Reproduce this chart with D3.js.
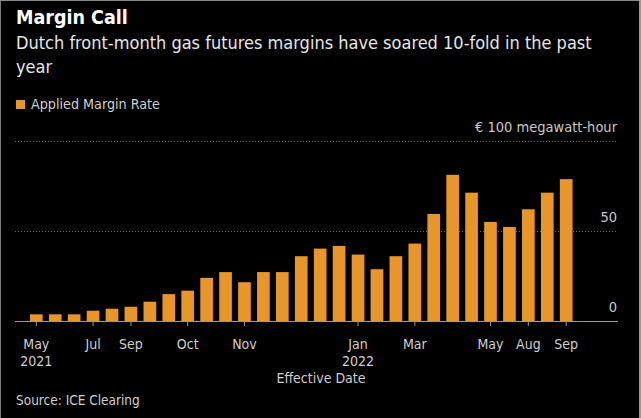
<!DOCTYPE html>
<html>
<head>
<meta charset="utf-8">
<script src="https://cdn.jsdelivr.net/npm/d3@7"></script>
<style>
  html, body { margin: 0; padding: 0; background: #000; }
  svg { display: block; }
  text { font-family: "DejaVu Sans Condensed", "DejaVu Sans", sans-serif; }
</style>
</head>
<body>
<div id="chart"></div>
<script>
var w = 641;
var h = 418;

// applied margin rate, EUR per MWh, one value per effective date
var margins = [3.7, 3.7, 3.7, 5.7, 6.8, 7.9, 10.7, 14.9, 16.8, 23.9, 27.1, 21.5, 27.1, 27.1, 35.9,
               40.1, 41.6, 36.8, 28.7, 35.9, 42.9, 59.3, 81.0, 71.1, 54.9, 52.1, 61.9, 71.1, 78.6];
var barIdx = d3.range(margins.length);

// labelled ticks on the date axis
var tickIdx = [0, 3, 5, 8, 11, 17, 20, 24, 26, 28];
var tickMonths = ["May", "Jul", "Sep", "Oct", "Nov", "Jan", "Mar", "May", "Aug", "Sep"];
var tickYears = ["2021", "", "", "", "", "2022", "", "", "", ""];
var yTicks = [0, 50, 100];

var orange = "#e8952a";
var plotL = 15, plotR = 618, plotTop = 140.5, plotBot = 321;

var svg = d3.select("#chart").append("svg")
            .attr("width", w)
            .attr("height", h);

svg.append("rect").attr("width", w).attr("height", h).attr("fill", "#000");

// frame of the screenshot
svg.append("line").attr("x1", 0).attr("x2", w).attr("y1", 0.5).attr("y2", 0.5).attr("stroke", "#888");
svg.append("line").attr("x1", 0.5).attr("x2", 0.5).attr("y1", 0).attr("y2", h).attr("stroke", "#777");
svg.append("line").attr("x1", w - 1).attr("x2", w - 1).attr("y1", 0).attr("y2", h).attr("stroke", "#999").attr("stroke-width", 2);

// titles
svg.append("text").attr("x", 16).attr("y", 24)
   .attr("fill", "#fff").attr("font-size", 19.5).attr("font-weight", "bold")
   .text("Margin Call");
svg.append("text").attr("x", 16).attr("y", 49)
   .attr("fill", "#e6e6e6").attr("font-size", 18)
   .text("Dutch front-month gas futures margins have soared 10-fold in the past");
svg.append("text").attr("x", 16).attr("y", 73)
   .attr("fill", "#e6e6e6").attr("font-size", 18)
   .text("year");

// legend
svg.append("rect").attr("x", 16).attr("y", 100).attr("width", 9).attr("height", 9).attr("fill", orange);
svg.append("text").attr("x", 31).attr("y", 109)
   .attr("fill", "#cfcfcf").attr("font-size", 14.2)
   .text("Applied Margin Rate");

var x = d3.scaleBand()
          .domain(barIdx)
          .range([plotL, 587.5])
          .paddingInner(0.33)
          .paddingOuter(0.79);

var y = d3.scaleLinear()
          .domain([0, 100])
          .range([plotBot, plotTop]);

// gridlines (dotted)
svg.append("g").selectAll("line")
   .data(yTicks.filter(function(d) { return d > 0; }))
   .enter().append("line")
   .attr("x1", plotL).attr("x2", plotR)
   .attr("y1", function(d) { return Math.round(y(d)) + 0.5; })
   .attr("y2", function(d) { return Math.round(y(d)) + 0.5; })
   .attr("stroke", "#6a6a6a")
   .attr("stroke-dasharray", "1,2");

// y labels sit above their gridline
svg.append("g").selectAll("text")
   .data(yTicks)
   .enter().append("text")
   .attr("x", plotR - 1)
   .attr("y", function(d) { return y(d) - 9; })
   .attr("text-anchor", "end")
   .attr("fill", "#c8c8c8").attr("font-size", 14.5)
   .text(function(d) { return d == 100 ? "\u20ac 100 megawatt-hour" : d; });

// bars
svg.append("g").selectAll("rect")
   .data(margins)
   .enter().append("rect")
   .attr("x", function(d, i) { return x(i); })
   .attr("width", x.bandwidth())
   .attr("y", function(d) { return y(d); })
   .attr("height", function(d) { return y(0) - y(d); })
   .attr("fill", orange);

// x axis
var xAxis = d3.axisBottom(x)
              .tickValues(tickIdx)
              .tickSize(5)
              .tickFormat(function(d) { return tickMonths[tickIdx.indexOf(d)]; });

var gx = svg.append("g")
            .attr("transform", "translate(0," + plotBot + ")")
            .call(xAxis);
gx.select(".domain").remove();
gx.selectAll(".tick line").attr("stroke", "#9a9a9a");
gx.selectAll(".tick text")
  .attr("y", 18)
  .attr("fill", "#cfcfcf")
  .attr("font-size", 14)
  .attr("font-family", null);
gx.selectAll(".tick").append("text")
  .attr("y", 35).attr("dy", "0.71em")
  .attr("fill", "#cfcfcf")
  .attr("font-size", 14)
  .attr("text-anchor", "middle")
  .text(function(d) { return tickYears[tickIdx.indexOf(d)]; });

svg.append("line")
   .attr("x1", plotL).attr("x2", plotR)
   .attr("y1", plotBot + 0.5).attr("y2", plotBot + 0.5)
   .attr("stroke", "#9a9a9a");

svg.append("text").attr("x", 321).attr("y", 383)
   .attr("text-anchor", "middle")
   .attr("fill", "#cfcfcf").attr("font-size", 14)
   .text("Effective Date");

svg.append("text").attr("x", 16).attr("y", 405)
   .attr("fill", "#cfcfcf").attr("font-size", 13.5)
   .text("Source: ICE Clearing");
</script>
</body>
</html>
